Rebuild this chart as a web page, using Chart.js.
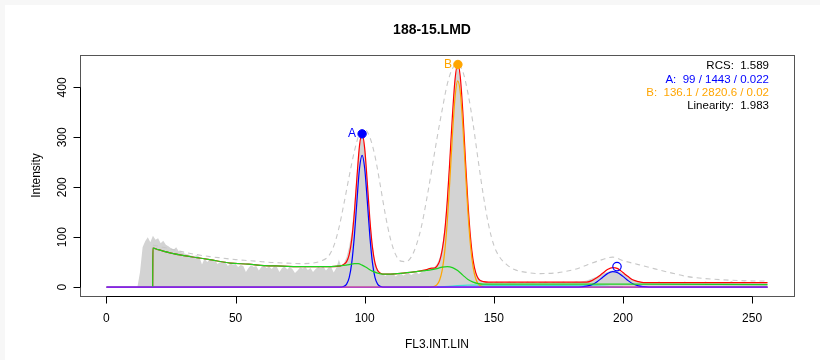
<!DOCTYPE html>
<html>
<head>
<meta charset="utf-8">
<title>188-15.LMD</title>
<script src="https://cdn.jsdelivr.net/npm/chart.js@4"></script>
<style>
  html, body { margin: 0; padding: 0; background: #fff; }
  #wrap { width: 820px; height: 360px; }
</style>
</head>
<body>
<div id="wrap"><canvas id="fit-chart" width="820" height="360"></canvas></div>
<script>
// histogram counts, one per channel 0..256
const counts = [
  0, 0, 0, 0, 0, 0, 0, 0, 0, 0,
  0, 0, 0, 30, 80, 92, 100, 90, 103, 95,
  98, 88, 93, 85, 82, 78, 75, 80, 72, 70,
  68, 66, 65, 63, 62, 64, 60, 45, 57, 50,
  55, 52, 54, 46, 50, 48, 51, 42, 47, 45,
  46, 40, 44, 42, 30, 38, 44, 40, 42, 33,
  40, 43, 38, 41, 36, 42, 40, 30, 38, 41,
  35, 40, 36, 28, 33, 39, 37, 40, 34, 38,
  30, 36, 40, 38, 41, 33, 39, 40, 29, 38,
  55, 40, 48, 60, 82, 112, 165, 230, 285, 306,
  282, 215, 142, 86, 52, 36, 28, 26, 22, 26,
  24, 27, 21, 25, 27, 23, 26, 28, 24, 27,
  29, 26, 30, 32, 31, 35, 37, 40, 46, 58,
  80, 120, 185, 265, 350, 420, 445, 416, 340, 250,
  160, 95, 55, 30, 18, 13, 11, 10, 9, 10,
  8, 11, 9, 10, 8, 9, 11, 9, 10, 8,
  9, 10, 8, 11, 9, 10, 9, 8, 10, 9,
  11, 9, 8, 10, 9, 10, 9, 11, 9, 10,
  9, 10, 11, 10, 11, 12, 13, 15, 17, 19,
  21, 24, 26, 28, 30, 32, 33, 33, 32, 30,
  27, 24, 21, 18, 15, 13, 11, 10, 9, 10,
  9, 10, 8, 9, 11, 9, 8, 10, 9, 10,
  8, 9, 10, 9, 11, 8, 9, 10, 9, 8,
  10, 9, 11, 9, 8, 10, 9, 10, 8, 9,
  10, 9, 12, 9, 10, 8, 9, 11, 9, 10,
  9, 8, 10, 9, 10, 9, 8
];

// dashed grey curve
const dashX = [18, 20, 25, 30, 35, 40, 45, 50, 55, 60, 65, 70, 75, 80, 83, 86, 88, 90, 92, 94, 96, 98, 99, 100, 102, 104, 106, 108, 110, 112, 114, 116, 118, 120, 122, 124, 126, 128, 130, 132, 134, 136, 138, 140, 142, 144, 146, 148, 150, 152, 155, 158, 162, 168, 175, 181, 185, 188, 192, 196, 200, 206, 212, 219, 225, 232, 245, 256];
const dashY = [84, 82, 76, 70, 65, 61, 58, 55, 53, 51, 49, 48, 47, 48, 52, 62, 82, 118, 168, 222, 272, 308, 315, 316, 300, 262, 205, 145, 96, 65, 52, 51, 60, 84, 122, 176, 236, 298, 355, 407, 438, 447, 432, 388, 326, 252, 182, 124, 84, 62, 45, 35, 30, 27, 29, 35, 42, 48, 55, 60, 53, 45, 37, 28, 21, 17, 13, 12];

// full model (red)
const modelX = [17.9, 18, 20, 25, 30, 35, 40, 48, 55, 61, 68, 74, 80, 87, 90, 91, 92, 93, 94, 95, 96, 97, 98, 99, 100, 101, 102, 103, 104, 105, 106, 107, 110, 115, 120, 124, 126, 127, 128, 129, 130, 131, 132, 133, 134, 135, 136, 137, 138, 139, 140, 141, 142, 143, 144, 145, 146, 148, 155, 165, 175, 182, 184, 186, 188, 190, 192, 194, 196, 198, 200, 202, 204, 206, 208, 210, 215, 230, 256];
const modelY = [0, 78, 75, 68, 63, 59, 55, 48, 46, 43, 42, 41, 41, 41, 42, 43, 46, 51, 65, 96, 149, 220, 284, 307, 278, 210, 136, 80, 48, 33, 28, 26, 26, 28, 31, 35, 38, 38, 42, 52, 74, 112, 174, 257, 346, 417, 447, 422, 351, 256, 167, 98, 53, 29, 17, 12.5, 11, 10, 10, 10, 10, 10, 10, 10, 13, 19, 27, 35, 39, 37, 29, 21, 14, 11, 9, 9, 9, 9, 9];

// debris / aggregates (green)
const debrisX = [17.9, 18, 20, 25, 30, 35, 40, 48, 55, 61, 68, 74, 80, 87, 91, 94, 96, 97.5, 99, 101, 103, 105, 107, 110, 115, 120, 125, 128, 130, 132, 134, 136, 138, 140, 142, 144, 146, 150, 200, 256];
const debrisY = [0, 78, 75, 68, 63, 59, 55, 48, 46, 43, 42, 41, 41, 41, 43, 45, 47, 47, 44, 38, 32, 28, 26, 26, 28, 31, 34, 37, 40, 41, 39, 33, 24, 15, 10, 7, 6, 6, 6, 5];

// population A, G1 and G2 (blue)
const popAX = [0, 91, 92, 93, 94, 95, 96, 97, 98, 99, 100, 101, 102, 103, 104, 105, 106, 107, 182, 184, 186, 188, 190, 192, 194, 196, 198, 200, 202, 204, 206, 208, 210, 256];
const popAY = [0, 0, 1.5, 6, 19, 49, 102, 173, 238, 264, 238, 173, 102, 49, 19, 6, 1.5, 0, 0, 0.5, 1.8, 4.8, 10.6, 18.8, 26.9, 31, 28.7, 21.4, 12.9, 6.3, 2.4, 0.8, 0, 0];

// population B (orange)
const popBX = [0, 125, 126, 127, 128, 129, 130, 131, 132, 133, 134, 135, 136, 137, 138, 139, 140, 141, 142, 143, 144, 145, 146, 147, 256];
const popBY = [0, 0, 0.5, 1.5, 4.9, 13.8, 33.6, 71.4, 133, 216, 307, 381, 413, 391, 324, 234, 148, 81.7, 39.4, 16.6, 6.1, 2, 0.6, 0, 0];

// S-phase (cyan) and baseline (purple)
const sPhaseX = [128, 134, 140, 150, 170, 190, 196, 200];
const sPhaseY = [0, 2, 4, 3.5, 3, 2.5, 1, 0];
const baseX = [0, 256];
const baseY = [0, 0];

// peak markers
const peakNames = ['A', 'B'];
const peakX = [99, 136.1];
const peakY = [307, 446];
const g2X = [197.7];
const g2Y = [41];

const xTicks = [0, 50, 100, 150, 200, 250];
const yTicks = [0, 100, 200, 300, 400];

const statLines = [
  { text: 'RCS:  1.589', color: '#000000' },
  { text: 'A:  99 / 1443 / 0.022', color: '#0000ff' },
  { text: 'B:  136.1 / 2820.6 / 0.02', color: '#ffa500' },
  { text: 'Linearity:  1.983', color: '#000000' }
];

const FONT = '"Liberation Sans", Arial, Helvetica, sans-serif';

const pts = (xs, ys) => xs.map((x, i) => ({ x: x, y: ys[i] }));

const curve = (label, xs, ys, color, order, extra) => Object.assign({
  label: label,
  data: pts(xs, ys),
  borderColor: color,
  borderWidth: 1.2,
  pointRadius: 0,
  fill: false,
  cubicInterpolationMode: 'monotone',
  order: order
}, extra || {});

// faint grey frame at top/left, as in the screenshot
const pageBg = {
  id: 'pageBg',
  beforeDraw(chart) {
    const ctx = chart.ctx;
    ctx.save();
    ctx.fillStyle = '#f7f7f7';
    ctx.fillRect(0, 0, chart.width, 5);
    ctx.fillRect(0, 0, 5, chart.height);
    ctx.restore();
  }
};

// R-like axes, box, titles and annotations
const rDecor = {
  id: 'rDecor',
  afterDraw(chart) {
    const { ctx, chartArea: a } = chart;
    const xs = chart.scales.x, ys = chart.scales.y;
    ctx.save();

    ctx.strokeStyle = '#555';
    ctx.lineWidth = 1;
    ctx.strokeRect(a.left + 0.5, a.top + 0.5, a.right - a.left, a.bottom - a.top);

    ctx.strokeStyle = '#000';
    ctx.fillStyle = '#000';
    ctx.font = '12px ' + FONT;

    // x axis
    const by = Math.round(a.bottom) + 0.5;
    const x0 = xs.getPixelForValue(xTicks[0]), x1 = xs.getPixelForValue(xTicks[xTicks.length - 1]);
    ctx.beginPath();
    ctx.moveTo(x0, by); ctx.lineTo(x1, by);
    xTicks.forEach(t => {
      const px = Math.round(xs.getPixelForValue(t)) + 0.5;
      ctx.moveTo(px, by); ctx.lineTo(px, by + 7);
    });
    ctx.stroke();
    ctx.textAlign = 'center';
    ctx.textBaseline = 'middle';
    xTicks.forEach(t => ctx.fillText(String(t), xs.getPixelForValue(t), by + 22));

    // y axis
    const lx = Math.round(a.left) + 0.5;
    ctx.beginPath();
    ctx.moveTo(lx, ys.getPixelForValue(yTicks[0]));
    ctx.lineTo(lx, ys.getPixelForValue(yTicks[yTicks.length - 1]));
    yTicks.forEach(t => {
      const py = Math.round(ys.getPixelForValue(t)) + 0.5;
      ctx.moveTo(lx, py); ctx.lineTo(lx - 7, py);
    });
    ctx.stroke();
    yTicks.forEach(t => {
      ctx.save();
      ctx.translate(lx - 18, ys.getPixelForValue(t));
      ctx.rotate(-Math.PI / 2);
      ctx.fillText(String(t), 0, 0);
      ctx.restore();
    });

    // axis titles
    ctx.fillText('FL3.INT.LIN', (a.left + a.right) / 2, 345);
    ctx.save();
    ctx.translate(37, (a.top + a.bottom) / 2);
    ctx.rotate(-Math.PI / 2);
    ctx.fillText('Intensity', 0, 0);
    ctx.restore();

    // main title
    ctx.font = 'bold 14px ' + FONT;
    ctx.fillText('188-15.LMD', 432, 30);

    // peak labels
    ctx.font = '12px ' + FONT;
    ctx.textAlign = 'right';
    const peakColors = ['#0000ff', '#ffa500'];
    peakNames.forEach((n, i) => {
      ctx.fillStyle = peakColors[i];
      ctx.fillText(n, xs.getPixelForValue(peakX[i]) - 6, ys.getPixelForValue(peakY[i]));
    });

    // stats block
    ctx.font = '11.5px ' + FONT;
    statLines.forEach((s, i) => {
      ctx.fillStyle = s.color;
      ctx.fillText(s.text, 769, 66 + i * 13.4);
    });

    ctx.restore();
  }
};

new Chart(document.getElementById('fit-chart'), {
  type: 'line',
  data: {
    datasets: [
      {
        label: 'peaks',
        data: pts(peakX, peakY),
        showLine: false,
        pointRadius: 4.2,
        pointBackgroundColor: ['#0000ff', '#ffa500'],
        pointBorderColor: ['#0000ff', '#ffa500'],
        pointBorderWidth: 1,
        order: 0
      },
      {
        label: 'G2',
        data: pts(g2X, g2Y),
        showLine: false,
        pointRadius: 4.2,
        pointBackgroundColor: 'rgba(0,0,0,0)',
        pointBorderColor: '#0000ff',
        pointBorderWidth: 1.2,
        order: 0
      },
      curve('baseline', baseX, baseY, '#a020f0', 1),
      curve('debris', debrisX, debrisY, '#1fd21f', 2),
      curve('A', popAX, popAY, '#0000ff', 3),
      curve('B', popBX, popBY, '#ffa500', 3),
      curve('S', sPhaseX, sPhaseY, '#40e0d0', 4),
      curve('model', modelX, modelY, '#ff0000', 5),
      curve('smooth', dashX, dashY, '#c8c8c8', 6, { borderDash: [5, 4], borderWidth: 1.1 }),
      {
        label: 'counts',
        data: counts.map((c, i) => ({ x: i, y: c })),
        borderWidth: 0,
        borderColor: 'rgba(0,0,0,0)',
        backgroundColor: '#d3d3d3',
        fill: 'origin',
        pointRadius: 0,
        tension: 0,
        order: 7
      }
    ]
  },
  options: {
    responsive: false,
    animation: false,
    devicePixelRatio: 1,
    layout: { padding: { left: 80, right: 26, top: 55, bottom: 64 } },
    scales: {
      x: { type: 'linear', min: -10.24, max: 266.24, display: false },
      y: { type: 'linear', min: -17.9, max: 465, display: false }
    },
    plugins: {
      legend: { display: false },
      tooltip: { enabled: false },
      title: { display: false }
    }
  },
  plugins: [pageBg, rDecor]
});
</script>
</body>
</html>
